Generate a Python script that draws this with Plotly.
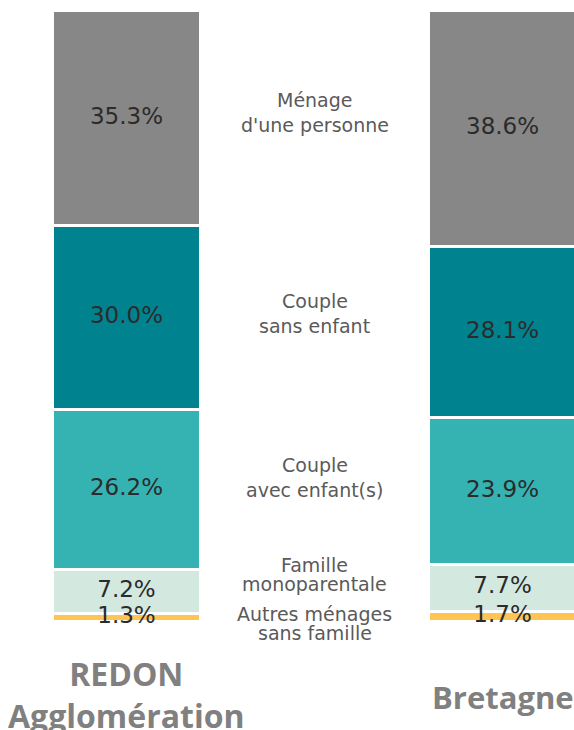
import plotly.graph_objects as go

regions = ["REDON<br>Agglomération", "Bretagne"]
categories = ["Autres ménages sans famille", "Famille monoparentale",
              "Couple avec enfant(s)", "Couple sans enfant", "Ménage d'une personne"]
redon = [1.3, 7.2, 26.2, 30.0, 35.3]
bretagne = [1.7, 7.7, 23.9, 28.1, 38.6]
colors = ["#FFC550", "#D3E8DE", "#35B3B3", "#00838F", "#878787"]

# middle labels: lines and their vertical position (y data units)
label_lines = [
    ("Ménage", 85.3), ("d'une personne", 81.2),
    ("Couple", 52.4), ("sans enfant", 48.3),
    ("Couple", 25.6), ("avec enfant(s)", 21.5),
    ("Famille", 9.3), ("monoparentale", 6.2),
    ("Autres ménages", 1.2), ("sans famille", -1.9),
]

fig = go.Figure()
for i, cat in enumerate(categories):
    vals = [redon[i], bretagne[i]]
    fig.add_trace(go.Bar(
        x=[0, 1], y=vals, name=cat,
        width=0.394,
        marker=dict(color=colors[i], line=dict(color="white", width=3)),
        hoverinfo="skip",
    ))

# value labels drawn on top of all bars
for series in (redon, bretagne):
    pass
xs, ys, ts = [], [], []
for xi, series in enumerate((redon, bretagne)):
    base = 0.0
    for v in series:
        xs.append(xi)
        ys.append(base + v / 2)
        ts.append(f"{v:.1f}%")
        base += v
fig.add_trace(go.Scatter(
    x=xs, y=ys, text=ts, mode="text", textposition="middle center",
    textfont=dict(family="DejaVu Sans", size=23, color="#2b2b2b"),
    cliponaxis=False, hoverinfo="skip",
))

for txt, yv in label_lines:
    fig.add_annotation(x=0.5, y=yv, xref="x", yref="y", text=txt, showarrow=False,
                       xanchor="center", yanchor="middle",
                       font=dict(family="DejaVu Sans", size=19, color="#5a5a5a"))

fig.add_annotation(x=0, y=-0.086, xref="x", yref="paper", text="<b>REDON<br>Agglomération</b>",
                   showarrow=False, xanchor="center", yanchor="middle",
                   font=dict(family="Open Sans", size=32, color="#808080"))
fig.add_annotation(x=1, y=-0.0905, xref="x", yref="paper", text="<b>Bretagne</b>",
                   showarrow=False, xanchor="center", yanchor="middle",
                   font=dict(family="Open Sans", size=31, color="#808080"))

fig.update_layout(
    width=574, height=730,
    margin=dict(l=0, r=0, t=10, b=90),
    barmode="stack",
    showlegend=False,
    plot_bgcolor="white", paper_bgcolor="white",
    xaxis=dict(range=[-0.3364, 1.19], visible=False),
    yaxis=dict(range=[-3, 100], visible=False),
)
fig.write_html("out.html", config={"displayModeBar": False},
               post_script="document.body.style.margin='0';document.body.style.overflow='hidden';")
